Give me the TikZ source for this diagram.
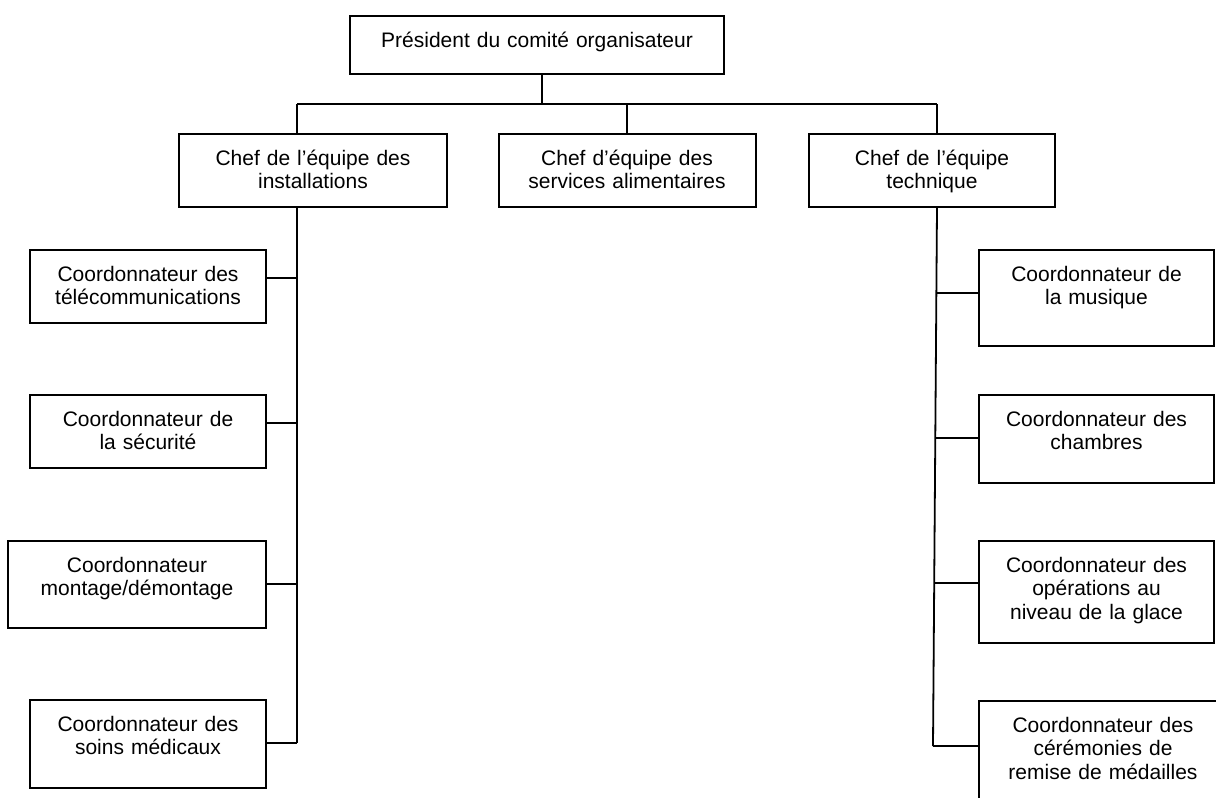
\documentclass[tikz,border=0pt]{standalone}
\usepackage{fontspec}
\setmainfont{Liberation Sans}

\tikzset{
  unit/.style={draw, line width=1pt, anchor=north, align=center,
    inner xsep=3pt, inner ysep=3pt, text height=12.8pt,
    font=\fontsize{10.5}{11.6}\selectfont},
}

\begin{document}
\begin{tikzpicture}[x=0.5pt,y=-0.5pt,line width=0.9pt]

\clip (0,0) rectangle (1216,798);

% top and the three team leaders
\node[unit, text width=181pt, text depth=10.2pt] (pres) at (537,15) {Président du comité organisateur};
\node[unit, text width=128pt, text depth=17.7pt] (inst) at (313,133) {Chef de l’équipe des\\installations};
\node[unit, text width=122.5pt, text depth=17.7pt] (alim) at (627,133) {Chef d’équipe des\\services alimentaires};
\node[unit, text width=117pt, text depth=17.7pt] (tech) at (932,133) {Chef de l’équipe\\technique};

\coordinate (bus) at (542,104);
\coordinate (bl) at (297,104);
\coordinate (br) at (937,104);
\draw (pres.south -| bus) -- (bus);
\draw (bl) -- (br);
\draw (bl) -- (bl |- inst.north);
\draw (alim.north) -- (alim.north |- bus);
\draw (br) -- (br |- tech.north);

% installations
\node[unit, text width=112pt, text depth=17.7pt] (tele) at (148,249) {Coordonnateur des\\télécommunications};
\node[unit, text width=112pt, text depth=17.7pt] (secu) at (148,394) {Coordonnateur de\\la sécurité};
\node[unit, text width=123pt, text depth=24.7pt] (mont) at (137,540) {Coordonnateur\\montage/démontage};
\node[unit, text width=112pt, text depth=25.2pt] (soin) at (148,699) {Coordonnateur des\\soins médicaux};

\coordinate (l1) at (297,278);
\coordinate (l2) at (297,423);
\coordinate (l3) at (297,584);
\coordinate (l4) at (297,743);
\draw (bl |- inst.south) -- (l4);
\draw (l1) -- (l1 -| tele.east);
\draw (l2) -- (l2 -| secu.east);
\draw (l3) -- (l3 -| mont.east);
\draw (l4) -- (l4 -| soin.east);

% technique
\node[unit, text width=111.5pt, text depth=29.2pt] (musi) at (1096.5,249) {Coordonnateur de\\la musique};
\node[unit, text width=111.5pt, text depth=25.2pt] (cham) at (1096.5,394) {Coordonnateur des\\chambres};
\node[unit, text width=111.5pt, text depth=32.2pt] (glac) at (1096.5,540) {Coordonnateur des\\opérations au\\niveau de la glace};
\node[unit, text width=118pt, text depth=37.2pt] (cere) at (1103,700) {Coordonnateur des\\cérémonies de\\remise de médailles};

\coordinate (r1) at (936.4,293);
\coordinate (r2) at (935.3,438);
\coordinate (r3) at (934.2,583);
\coordinate (r4) at (933,746);
\draw (br |- tech.south) -- (r4);
\draw (r1) -- (r1 -| musi.west);
\draw (r2) -- (r2 -| cham.west);
\draw (r3) -- (r3 -| glac.west);
\draw (r4) -- (r4 -| cere.west);

\end{tikzpicture}
\end{document}
